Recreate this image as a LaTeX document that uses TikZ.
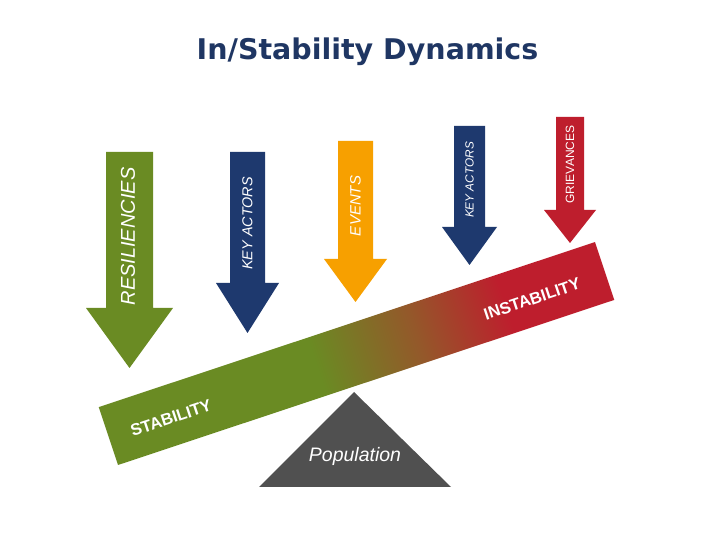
\documentclass[tikz,border=0pt]{standalone}
\usepackage{fontspec}
\setmainfont{Liberation Sans}
\newfontfamily\titlefont{DejaVu Sans}
\usetikzlibrary{positioning}

\definecolor{stabgreen}{RGB}{106,139,35}
\definecolor{midbrown}{RGB}{148,88,42}
\definecolor{instred}{RGB}{190,30,45}
\definecolor{actorblue}{RGB}{30,57,110}
\definecolor{eventorange}{RGB}{247,160,0}
\definecolor{popgray}{RGB}{80,80,80}
\definecolor{titleblue}{RGB}{31,54,99}
\pgfdeclarehorizontalshading{beamshade}{100bp}{color(0bp)=(stabgreen); color(46bp)=(stabgreen); color(56bp)=(midbrown); color(65bp)=(instred); color(100bp)=(instred)}

\begin{document}
\begin{tikzpicture}[x=1pt, y=1pt,
  arrowlbl/.style={text=white, rotate=90, inner sep=0pt},
  beamlbl/.style={text=white, font=\bfseries\fontsize{16.5}{18}\selectfont, rotate=18.4, inner sep=0pt}]
\useasboundingbox[fill=white] (0,0) rectangle (720,540);
% title
\node[text=titleblue, font=\titlefont\bfseries\fontsize{28.5}{31}\selectfont] (title) at (367.5,488) {In/Stability Dynamics};
% forces pushing on the beam
\fill[stabgreen] (106,388) -- (153,388) -- (153,232) -- (173,232) -- (129.5,172) -- (86,232) -- (106,232) -- cycle;
\fill[actorblue] (230,388) -- (265,388) -- (265,257) -- (279,257) -- (247.5,207) -- (216,257) -- (230,257) -- cycle;
\fill[eventorange] (338,399) -- (373,399) -- (373,281) -- (387,281) -- (355.5,238) -- (324,281) -- (338,281) -- cycle;
\fill[actorblue] (454,414) -- (485,414) -- (485,313) -- (497,313) -- (469.5,275) -- (442,313) -- (454,313) -- cycle;
\fill[instred] (556,423) -- (584,423) -- (584,330) -- (596,330) -- (570,297) -- (544,330) -- (556,330) -- cycle;
\node[arrowlbl, font=\itshape\fontsize{20}{22}\selectfont] (resil) at (128,303.5) {RESILIENCIES};
\node[arrowlbl, font=\itshape\fontsize{14.4}{16}\selectfont] (actorsA) at (247.5,316.5) {KEY ACTORS};
\node[arrowlbl, font=\itshape\fontsize{15}{17}\selectfont] (events) at (355.5,334) {EVENTS};
\node[arrowlbl, font=\itshape\fontsize{11.8}{13}\selectfont] (actorsB) at (469.5,360) {KEY ACTORS};
\node[arrowlbl, font=\fontsize{12}{14}\selectfont] (griev) at (570,375.5) {GRIEVANCES};
% the beam
\begin{scope}[transform canvas={shift={(118pt,75pt)}, rotate=18.4}]
  \shade[shading=beamshade] (0,0) rectangle (523,61);
\end{scope}
\node[beamlbl] (stab) at (171,122) {STABILITY};
\node[beamlbl] (instab) at (532,241) {INSTABILITY};
% fulcrum
\fill[popgray] (354,148) -- (451,53) -- (259,53) -- cycle;
\node[text=white, font=\itshape\fontsize{19.5}{22}\selectfont] (pop) at (355,84) {Population};
\end{tikzpicture}
\end{document}
